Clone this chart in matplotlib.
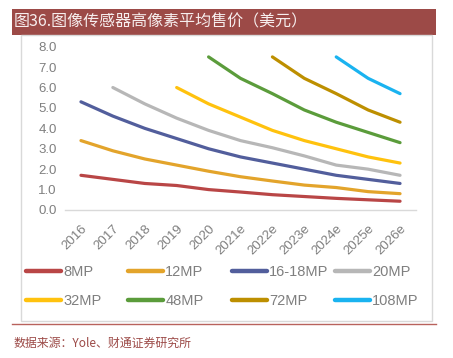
import numpy as np
import matplotlib
matplotlib.use("Agg")
import matplotlib.pyplot as plt
from matplotlib.patches import Rectangle
from matplotlib.lines import Line2D

plt.rcParams['font.family'] = ['Liberation Sans', 'Noto Sans CJK SC', 'DejaVu Sans']

years = ["2016", "2017", "2018", "2019", "2020", "2021e", "2022e", "2023e", "2024e", "2025e", "2026e"]
N = None
mp8 = [1.7, 1.5, 1.3, 1.2, 1.0, 0.88, 0.75, 0.66, 0.57, 0.5, 0.43]
mp12 = [3.4, 2.9, 2.5, 2.2, 1.9, 1.63, 1.42, 1.22, 1.1, 0.9, 0.8]
mp16 = [5.3, 4.6, 4.0, 3.5, 3.0, 2.6, 2.3, 2.0, 1.7, 1.5, 1.3]
mp20 = [N, 6.0, 5.2, 4.5, 3.9, 3.4, 3.05, 2.65, 2.2, 2.0, 1.7]
mp32 = [N, N, N, 6.0, 5.2, 4.55, 3.9, 3.4, 3.0, 2.6, 2.3]
mp48 = [N, N, N, N, 7.5, 6.45, 5.7, 4.9, 4.3, 3.8, 3.3]
mp72 = [N, N, N, N, N, N, 7.5, 6.45, 5.7, 4.9, 4.3]
mp108 = [N, N, N, N, N, N, N, N, 7.5, 6.45, 5.7]

series = [("8MP", mp8, "#B94646"), ("12MP", mp12, "#E3A42B"),
          ("16-18MP", mp16, "#525E9C"), ("20MP", mp20, "#B7B7B7"),
          ("32MP", mp32, "#FFC20E"), ("48MP", mp48, "#5B9C3B"),
          ("72MP", mp72, "#BD8F00"), ("108MP", mp108, "#1AB3F0")]

W, H = 453, 358
fig = plt.figure(figsize=(W / 100, H / 100), dpi=100)

def fx(px):
    return px / W

def fy(py):
    return 1 - py / H

# title bar
fig.patches.append(Rectangle((fx(12), fy(35)), fx(436) - fx(12), fy(9) - fy(35),
                             transform=fig.transFigure, facecolor="#9C4A47",
                             edgecolor="none", zorder=0))
fig.text(fx(14), fy(22), "图36.图像传感器高像素平均售价（美元）", color="#F7EEEE",
         fontsize=11.5, family=['Noto Sans CJK SC', 'DejaVu Sans'], va="center", ha="left")

# chart frame
fig.patches.append(Rectangle((fx(21), fy(321)), fx(432) - fx(21), fy(35) - fy(321),
                             transform=fig.transFigure, facecolor="none",
                             edgecolor="#D9D9D9", lw=1.0, zorder=0))
# bottom red line
fig.lines.append(Line2D([fx(12), fx(436)], [fy(323.5), fy(323.5)],
                        transform=fig.transFigure, color="#B8625C", lw=1.0))
fig.text(fx(13), fy(343), "数据来源：Yole、财通证券研究所", color="#9C4A47",
         fontsize=8.6, family=['Noto Sans CJK SC', 'DejaVu Sans'], va="center", ha="left")

ax = fig.add_axes([fx(65), fy(210), fx(416) - fx(65), fy(46.7) - fy(210)])
x = np.arange(len(years))
handles = []
for name, vals, col in series:
    v = np.array([np.nan if a is None else a for a in vals], dtype=float)
    ln, = ax.plot(x, v, color=col, lw=2.3, solid_capstyle="round",
                  solid_joinstyle="round", label=name)
    handles.append(ln)

ax.set_xlim(-0.5, len(years) - 0.5)
ax.set_ylim(0, 8)
ax.set_yticks(np.arange(0, 8.01, 1.0))
ax.set_yticklabels([f"{t:.1f}" for t in np.arange(0, 8.01, 1.0)])
ax.set_xticks(x)
ax.set_xticklabels(years, rotation=45, ha="right", va="top", rotation_mode="anchor")
for s in ["top", "right", "left"]:
    ax.spines[s].set_visible(False)
ax.spines["bottom"].set_color("#D9D9D9")
ax.spines["bottom"].set_linewidth(1.0)
ax.tick_params(axis="both", length=0, colors="#7F7F7F", labelsize=9.5)
ax.tick_params(axis="y", pad=6)
ax.tick_params(axis="x", pad=9)
ax.set_facecolor("none")

# legend: four columns
col_x = [26, 128, 232, 335]
for i, cx in enumerate(col_x):
    hs = [handles[i], handles[i + 4]]
    leg = fig.legend(handles=hs, labels=[h.get_label() for h in hs],
                     loc="upper left", bbox_to_anchor=(fx(cx), fy(265)),
                     frameon=False, fontsize=10.5, handlelength=2.4,
                     handletextpad=0.15, labelspacing=1.05, borderpad=0,
                     borderaxespad=0)
    for t in leg.get_texts():
        t.set_color("#7F7F7F")
    for l in leg.get_lines():
        l.set_linewidth(3.2)
        l.set_solid_capstyle("round")

fig.savefig("out.png", dpi=100)
